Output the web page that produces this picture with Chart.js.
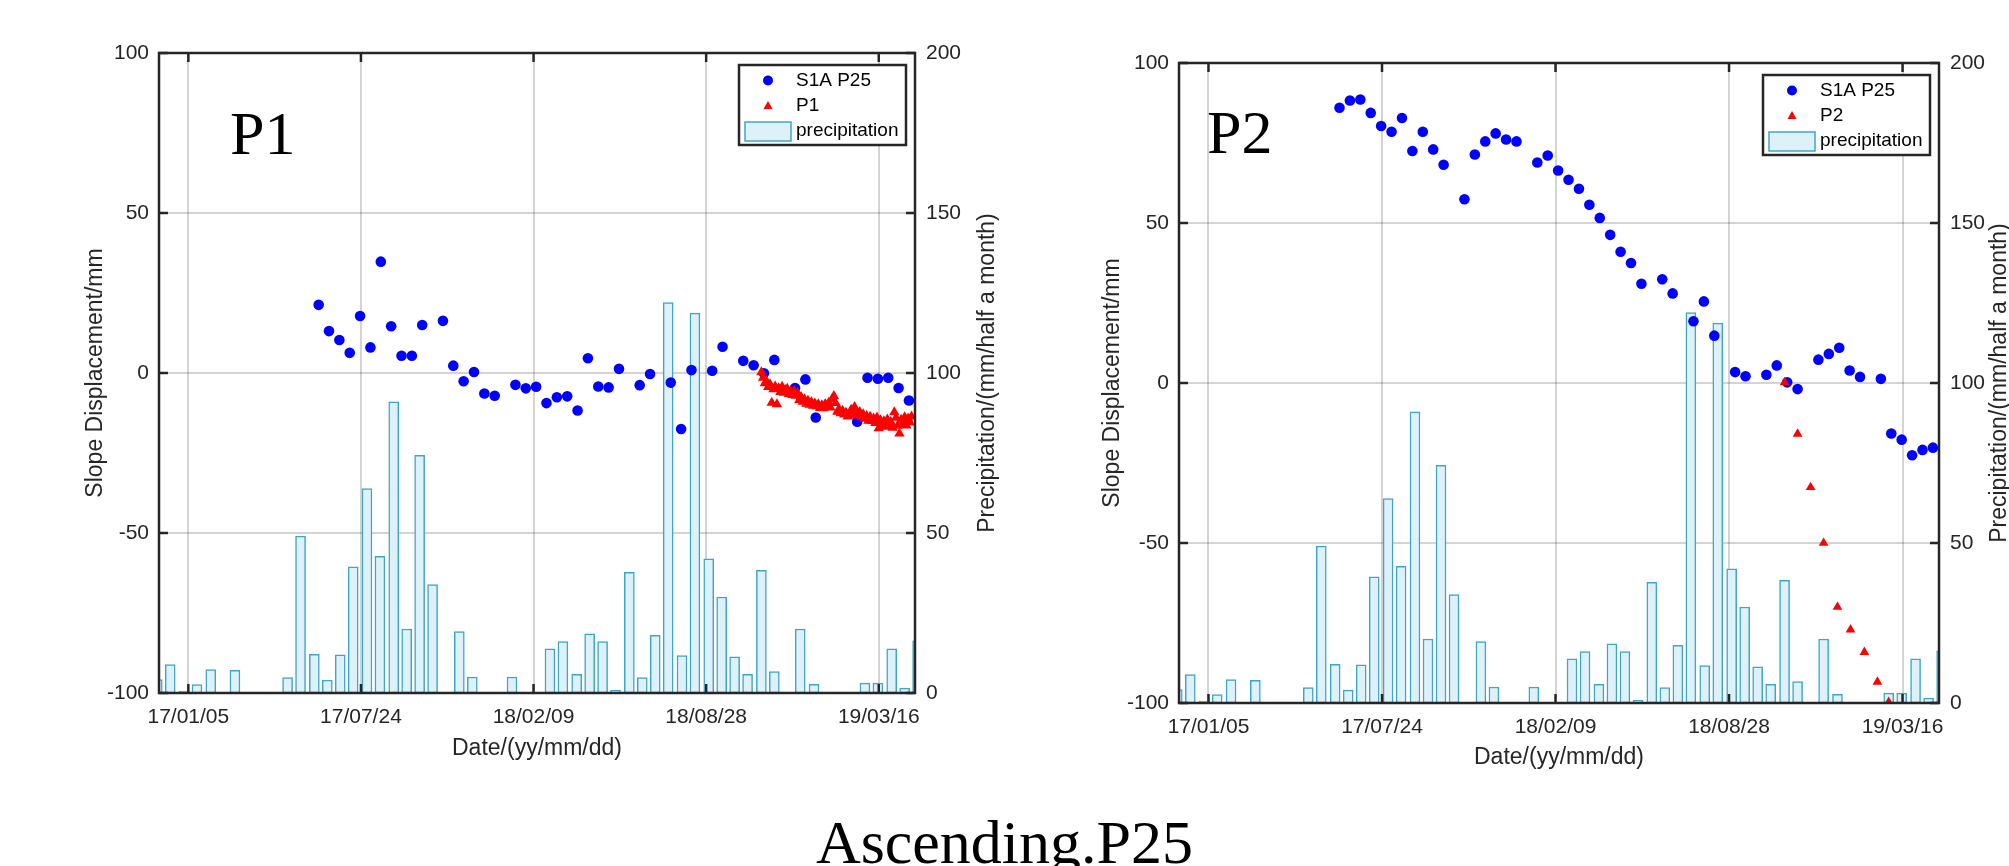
<!DOCTYPE html>
<html>
<head>
<meta charset="utf-8">
<script src="https://cdn.jsdelivr.net/npm/chart.js@4.4.1/dist/chart.umd.min.js"></script>
<style>
  html, body { margin: 0; padding: 0; background: #fff; overflow: hidden; }
  body { width: 2009px; height: 866px; position: relative; }
  .box { position: absolute; top: 0; height: 800px; }
  #box1 { left: 0; width: 1005px; }
  #box2 { left: 1005px; width: 1004px; }
  #caption {
    position: absolute; left: 0; top: 811px; width: 2009px; text-align: center;
    font: 62px/1 'Liberation Serif', 'Times New Roman', serif; color: #000;
  }
</style>
</head>
<body>
<div class="box" id="box1"><canvas id="c1"></canvas></div>
<div class="box" id="box2"><canvas id="c2"></canvas></div>
<div id="caption">Ascending.P25</div>
<script>
// x axis is counted in days from the first tick date
const origin = '2017-01-05'
const axisStart = '2016-12-02'
const axisEnd = '2019-04-27'

const tickDates = ['2017-01-05', '2017-07-24', '2018-02-09', '2018-08-28', '2019-03-16']
const tickLabels = ['17/01/05', '17/07/24', '18/02/09', '18/08/28', '19/03/16']
const dispTicks = [-100, -50, 0, 50, 100]
const precipTicks = [0, 50, 100, 150, 200]

// precipitation, mm per half month
const precipDates = [
  '2016-11-30', '2016-12-15', '2016-12-31', '2017-01-15', '2017-01-31', '2017-02-15', '2017-02-28',
  '2017-03-15', '2017-03-31', '2017-04-15', '2017-04-30', '2017-05-15', '2017-05-31', '2017-06-15',
  '2017-06-30', '2017-07-15', '2017-07-31', '2017-08-15', '2017-08-31', '2017-09-15', '2017-09-30',
  '2017-10-15', '2017-10-31', '2017-11-15', '2017-11-30', '2017-12-15', '2017-12-31', '2018-01-15',
  '2018-01-31', '2018-02-15', '2018-02-28', '2018-03-15', '2018-03-31', '2018-04-15', '2018-04-30',
  '2018-05-15', '2018-05-31', '2018-06-15', '2018-06-30', '2018-07-15', '2018-07-31', '2018-08-15',
  '2018-08-31', '2018-09-15', '2018-09-30', '2018-10-15', '2018-10-31', '2018-11-15', '2018-11-30',
  '2018-12-15', '2018-12-31', '2019-01-15', '2019-01-31', '2019-02-15', '2019-02-28', '2019-03-15',
  '2019-03-31', '2019-04-15', '2019-04-30'
]
const precipValues = [
  4.2, 8.9, 0.6, 2.6, 7.3, 0, 7.1,
  0, 0, 0, 4.8, 49, 12.1, 4.0,
  11.9, 39.4, 63.9, 42.7, 91, 20, 74.3,
  33.9, 0, 19.2, 5, 0, 0, 5,
  0, 0, 13.8, 16.1, 5.8, 18.5, 16.1,
  0.8, 37.7, 4.8, 18, 122, 11.7, 118.7,
  41.9, 30, 11.3, 5.8, 38.3, 6.7, 0,
  20, 2.7, 0, 0, 0, 3.1, 3.1,
  13.8, 1.5, 16.3
]

// S1A P25 acquisitions
const s1aDates = [
  '2017-06-05', '2017-06-17', '2017-06-29', '2017-07-11', '2017-07-23', '2017-08-04', '2017-08-16',
  '2017-08-28', '2017-09-09', '2017-09-21', '2017-10-03', '2017-10-27', '2017-11-08', '2017-11-20',
  '2017-12-02', '2017-12-14', '2017-12-26', '2018-01-19', '2018-01-31', '2018-02-12', '2018-02-24',
  '2018-03-08', '2018-03-20', '2018-04-01', '2018-04-13', '2018-04-25', '2018-05-07', '2018-05-19',
  '2018-06-12', '2018-06-24', '2018-07-18', '2018-07-30', '2018-08-11', '2018-09-04', '2018-09-16',
  '2018-10-10', '2018-10-22', '2018-11-03', '2018-11-15', '2018-12-09', '2018-12-21', '2019-01-02',
  '2019-01-14', '2019-01-26', '2019-02-19', '2019-03-03', '2019-03-15', '2019-03-27', '2019-04-08',
  '2019-04-20'
]
const s1aAtP1 = [
  21.3, 13.1, 10.3, 6.3, 17.8, 8.0, 34.8,
  14.6, 5.4, 5.4, 15.0, 16.3, 2.3, -2.6,
  0.3, -6.4, -7.1, -3.7, -4.8, -4.3, -9.4,
  -7.6, -7.3, -11.7, 4.6, -4.2, -4.5, 1.3,
  -3.8, -0.3, -3.0, -17.5, 0.9, 0.7, 8.2,
  3.8, 2.4, -0.1, 4.1, -4.7, -2.0, -13.9,
  null, null, -15.2, -1.5, -1.8, -1.5, -4.7,
  -8.6
]
const s1aAtP2 = [
  86.0, 88.3, 88.6, 84.4, 80.3, 78.5, 82.8,
  72.5, 78.5, 73.0, 68.2, 57.4, 71.4, 75.5,
  78.0, 76.1, 75.5, 68.9, 71.1, 66.4, 63.5,
  60.7, 55.7, 51.6, 46.3, 41.0, 37.5, 31.0,
  32.4, 28.0, 19.3, 25.5, 14.8, 3.4, 2.1,
  2.6, 5.5, 0.2, -1.9, 7.3, 9.1, 11.0,
  3.9, 1.9, 1.3, -15.8, -17.7, -22.6, -20.9,
  -20.2
]

// ground measurements at P1
const p1Dates = [
  '2018-10-31',
  '2018-11-02', '2018-11-04', '2018-11-06', '2018-11-08', '2018-11-10', '2018-11-12', '2018-11-14', '2018-11-16',
  '2018-11-18', '2018-11-20', '2018-11-22', '2018-11-24', '2018-11-26', '2018-11-28', '2018-11-30',
  '2018-12-02', '2018-12-04', '2018-12-06', '2018-12-08', '2018-12-10', '2018-12-12', '2018-12-14', '2018-12-16',
  '2018-12-18', '2018-12-20', '2018-12-22', '2018-12-24', '2018-12-26', '2018-12-28', '2018-12-30',
  '2019-01-01', '2019-01-03', '2019-01-05', '2019-01-07', '2019-01-09', '2019-01-11', '2019-01-13', '2019-01-15',
  '2019-01-17', '2019-01-19', '2019-01-21', '2019-01-23', '2019-01-25', '2019-01-27', '2019-01-29', '2019-01-31',
  '2019-02-02', '2019-02-04', '2019-02-06', '2019-02-08', '2019-02-10', '2019-02-12', '2019-02-14',
  '2019-02-16', '2019-02-18', '2019-02-20', '2019-02-22', '2019-02-24', '2019-02-26', '2019-02-28',
  '2019-03-02', '2019-03-04', '2019-03-06', '2019-03-08', '2019-03-10', '2019-03-12', '2019-03-14', '2019-03-16',
  '2019-03-18', '2019-03-20', '2019-03-22', '2019-03-24', '2019-03-26', '2019-03-28', '2019-03-30',
  '2019-04-01', '2019-04-03', '2019-04-05', '2019-04-07', '2019-04-09', '2019-04-11',
  '2019-04-13', '2019-04-15', '2019-04-17', '2019-04-19', '2019-04-21', '2019-04-23'
]
const p1Values = [
  0.2,
  -1.5, -3.2, -2.6, -4.4, -3.5, -9.3, -5.1, -4.2,
  -9.8, -4.8, -5.9, -4.3, -6.2, -5.3, -4.9,
  -6.6, -5.7, -6.9, -5.6, -7.1, -6.3, -8.4, -7.5,
  -9.0, -8.2, -9.6, -8.7, -9.9, -9.1, -10.2,
  -9.5, -10.4, -9.8, -10.9, -10.1, -11.0, -9.7, -10.5,
  -9.3, -10.8, -8.1, -7.2, -9.4, -12.1, -11.3, -12.6,
  -11.8, -13.0, -12.4, -13.6, -12.7, -11.5, -13.3,
  -10.6, -11.9, -13.1, -12.2, -13.8, -12.9, -14.3,
  -13.4, -14.9, -13.7, -15.0, -14.2, -15.6, -13.9, -17.3,
  -14.8, -16.2, -15.1, -16.8, -14.5, -16.0, -15.3,
  -17.1, -12.3, -14.0, -16.5, -18.9, -14.6,
  -15.9, -13.8, -16.4, -14.2, -15.5, -13.6
]

// ground measurements at P2
const p2Dates = ['2018-10-31', '2018-11-15', '2018-11-30', '2018-12-15', '2018-12-31', '2019-01-15', '2019-01-31', '2019-02-15', '2019-02-28']
const p2Values = [0.2, -15.9, -32.6, -50.0, -70.0, -77.1, -84.1, -93.4, -99.7]

const axisColor = '#262626'
const gridColor = 'rgba(0,0,0,0.17)'
const sans = "'Liberation Sans', Arial, sans-serif"
Chart.defaults.font.family = sans
Chart.defaults.font.size = 21
Chart.defaults.color = axisColor

function dayOf(d) {
  return (Date.parse(d) - Date.parse(origin)) / 864e5
}

function points(dates, values) {
  return dates.map((d, i) => ({ x: dayOf(d), y: values[i] })).filter(p => p.y !== null)
}

// MATLAB-like box, inward ticks, text tag, right title and boxed legend
const frame = {
  id: 'frame',
  afterDatasetsDraw(chart, args, o) {
    const { ctx, chartArea: a, scales } = chart
    const ds = chart.data.datasets
    ctx.save()
    ctx.strokeStyle = axisColor
    ctx.lineWidth = 2.5
    ctx.strokeRect(a.left, a.top, a.right - a.left, a.bottom - a.top)
    ctx.beginPath()
    scales.x.ticks.forEach(t => {
      const px = scales.x.getPixelForValue(t.value)
      ctx.moveTo(px, a.bottom); ctx.lineTo(px, a.bottom - 9)
      ctx.moveTo(px, a.top); ctx.lineTo(px, a.top + 9)
    })
    scales.y.ticks.forEach(t => {
      const py = scales.y.getPixelForValue(t.value)
      ctx.moveTo(a.left, py); ctx.lineTo(a.left + 9, py)
    })
    scales.y1.ticks.forEach(t => {
      const py = scales.y1.getPixelForValue(t.value)
      ctx.moveTo(a.right, py); ctx.lineTo(a.right - 9, py)
    })
    ctx.stroke()

    // big tag
    ctx.fillStyle = '#000'
    ctx.font = "62px 'Liberation Serif', 'Times New Roman', serif"
    ctx.textAlign = 'left'
    ctx.textBaseline = 'alphabetic'
    ctx.fillText(o.tag, a.left + o.tagX, a.top + o.tagY)

    // right axis title, reading upwards
    ctx.save()
    ctx.translate(a.right + o.rightTitleX, (a.top + a.bottom) / 2)
    ctx.rotate(-Math.PI / 2)
    ctx.font = '23px ' + sans
    ctx.fillStyle = axisColor
    ctx.textAlign = 'center'
    ctx.textBaseline = 'middle'
    ctx.fillText('Precipitation/(mm/half a month)', 0, 0)
    ctx.restore()

    // legend
    const w = 167, h = 80
    const L = a.right - 9 - w, T = a.top + 12
    ctx.fillStyle = '#fff'
    ctx.fillRect(L, T, w, h)
    ctx.lineWidth = 2.5
    ctx.strokeStyle = axisColor
    ctx.strokeRect(L, T, w, h)

    ctx.fillStyle = ds[0].backgroundColor
    ctx.beginPath()
    ctx.arc(L + 29, T + 15.5, 5, 0, Math.PI * 2)
    ctx.fill()

    ctx.fillStyle = ds[1].backgroundColor
    ctx.beginPath()
    ctx.moveTo(L + 29, T + 36)
    ctx.lineTo(L + 33.5, T + 44)
    ctx.lineTo(L + 24.5, T + 44)
    ctx.closePath()
    ctx.fill()

    ctx.fillStyle = ds[2].backgroundColor
    ctx.fillRect(L + 6, T + 57, 46, 19)
    ctx.lineWidth = 1.5
    ctx.strokeStyle = ds[2].borderColor
    ctx.strokeRect(L + 6, T + 57, 46, 19)

    ctx.fillStyle = '#000'
    ctx.font = '19px ' + sans
    ctx.textAlign = 'left'
    ctx.textBaseline = 'middle'
    ctx.fillText(ds[0].label, L + 57, T + 16)
    ctx.fillText(ds[1].label, L + 57, T + 41)
    ctx.fillText(ds[2].label, L + 57, T + 66)
    ctx.restore()
  }
}

function makeChart(id, s1aValues, pDates, pValues, pName, lay) {
  const ctx = document.getElementById(id).getContext('2d')
  return new Chart(ctx, {
    type: 'scatter',
    data: {
      datasets: [
        {
          type: 'scatter',
          label: 'S1A P25',
          data: points(s1aDates, s1aValues),
          yAxisID: 'y',
          backgroundColor: '#0000ff',
          borderColor: '#0000ff',
          pointRadius: 5.3,
          pointHoverRadius: 5.3,
          pointBorderWidth: 0,
          order: 1
        },
        {
          type: 'scatter',
          label: pName,
          data: points(pDates, pValues),
          yAxisID: 'y',
          pointStyle: 'triangle',
          backgroundColor: '#ff0000',
          borderColor: '#ff0000',
          pointRadius: lay.triRadius,
          pointHoverRadius: lay.triRadius,
          pointBorderWidth: 0,
          order: 0
        },
        {
          type: 'bar',
          label: 'precipitation',
          data: points(precipDates, precipValues),
          yAxisID: 'y1',
          backgroundColor: '#dff1f8',
          borderColor: '#3ea6c8',
          borderWidth: 1.5,
          borderSkipped: false,
          barThickness: 10,
          order: 2
        }
      ]
    },
    options: {
      responsive: true,
      maintainAspectRatio: false,
      animation: false,
      devicePixelRatio: 1,
      layout: { padding: { top: lay.top, left: 0, right: 0, bottom: 0 } },
      plugins: {
        legend: { display: false },
        tooltip: { enabled: false },
        frame: { tag: lay.tag, tagX: lay.tagX, tagY: lay.tagY, rightTitleX: lay.rightTitleX }
      },
      scales: {
        x: {
          type: 'linear',
          offset: false,
          min: dayOf(axisStart),
          max: dayOf(axisEnd),
          afterBuildTicks: s => { s.ticks = tickDates.map(d => ({ value: dayOf(d) })) },
          afterFit: s => { s.height = lay.xHeight },
          ticks: { autoSkip: false, maxRotation: 0, padding: 12, callback: (v, i) => tickLabels[i] },
          grid: { offset: false, color: gridColor, lineWidth: 2, drawTicks: false, tickLength: 0 },
          border: { display: false },
          title: { display: true, text: 'Date/(yy/mm/dd)', font: { size: 23 }, padding: { top: 0, bottom: lay.xTitlePad } }
        },
        y: {
          position: 'left',
          min: -100,
          max: 100,
          afterBuildTicks: s => { s.ticks = dispTicks.map(v => ({ value: v })) },
          afterFit: s => { s.width = lay.yWidth },
          ticks: { padding: 10 },
          grid: { color: gridColor, lineWidth: 2, drawTicks: false, tickLength: 0 },
          border: { display: false },
          title: { display: true, text: 'Slope Displacement/mm', font: { size: 23 }, padding: { top: lay.yTitlePad, bottom: 0 } }
        },
        y1: {
          position: 'right',
          min: 0,
          max: 200,
          afterBuildTicks: s => { s.ticks = precipTicks.map(v => ({ value: v })) },
          afterFit: s => { s.width = lay.y1Width },
          ticks: { padding: 11 },
          grid: { display: false, drawTicks: false, tickLength: 0 },
          border: { display: false }
        }
      }
    },
    plugins: [frame]
  })
}

makeChart('c1', s1aAtP1, p1Dates, p1Values, 'P1', {
  top: 53, yWidth: 159, y1Width: 90, xHeight: 107, yTitlePad: 82, xTitlePad: 38,
  tag: 'P1', tagX: 71, tagY: 101, rightTitleX: 73, triRadius: 6
})
makeChart('c2', s1aAtP2, p2Dates, p2Values, 'P2', {
  top: 63, yWidth: 174, y1Width: 70, xHeight: 97, yTitlePad: 94, xTitlePad: 29,
  tag: 'P2', tagX: 28, tagY: 90, rightTitleX: 61, triRadius: 5.6
})
</script>
</body>
</html>
